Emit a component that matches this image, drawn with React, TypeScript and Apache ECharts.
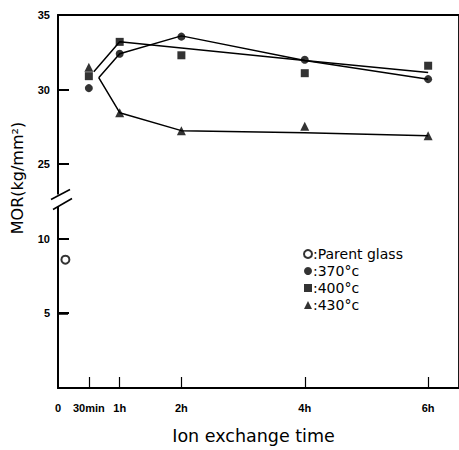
import React, { useEffect, useRef } from "react";
import * as echarts from "echarts";

// ---- data (hours, MOR kg/mm²) ----
const markerHours = [0.5, 1, 2, 4, 6];
const parentGlassHour = [0.12];
const parentGlassMor = [8.6];
const mor370 = [30.1, 32.4, 33.55, 32.0, 30.7];
const mor400 = [30.9, 33.2, 32.3, 31.1, 31.6];
const mor430 = [31.5, 28.45, 27.25, 27.55, 26.9];

// hand-drawn trend curves
const curve370Hours = [0.66, 1, 2, 4, 6];
const curve370 = [30.8, 32.4, 33.6, 31.95, 30.7];
const curve400Hours = [0.58, 1, 4, 6];
const curve400 = [31.2, 33.2, 31.95, 31.15];
const curve430Hours = [0.66, 1, 2, 4, 6];
const curve430 = [30.8, 28.45, 27.25, 27.1, 26.9];

const xTickValues = [0, 0.5, 1, 2, 4, 6];
const xTickLabels = ["0", "30min", "1h", "2h", "4h", "6h"];

// broken y axis: values 10..25 are cut out of the axis, leaving a 5-unit gap
const breakStart = 10;
const breakEnd = 25;
const breakGap = 5;
const yTickValues = [0, 5, 10, 25, 30, 35];
const yTickLabels = ["", "5", "10", "25", "30", "35"];

const legendNames = ["Parent glass", "370°c", "400°c", "430°c"];

const cut = breakEnd - breakStart - breakGap;
const toAxis = (v: number) => (v >= breakEnd - breakGap / 2 ? v - cut : v);
const zip = (xs: number[], ys: number[]) => xs.map((x, i) => [x, toAxis(ys[i])]);

export default function App() {
  const ref = useRef<HTMLDivElement>(null);
  useEffect(() => {
    if (!ref.current) return;
    const chart = echarts.init(ref.current, null, { renderer: "svg" });
    const ink = "#000";
    const font = "Liberation Sans";
    const lineSeries = (data: number[][]) => ({
      type: "line",
      data,
      showSymbol: false,
      silent: true,
      lineStyle: { color: ink, width: 1.5 },
      z: 2,
    });
    const scatter = (name: string, data: number[][], symbol: string, size: number) => ({
      type: "scatter",
      name,
      data,
      symbol,
      symbolSize: size,
      itemStyle: { color: ink },
      z: 3,
    });
    chart.setOption({
      animation: false,
      backgroundColor: "#fff",
      grid: { left: 58, right: -2, top: 15, bottom: 58, show: true, borderColor: ink, borderWidth: 1.8, backgroundColor: "transparent" },
      legend: {
        data: legendNames,
        orient: "vertical",
        left: 298,
        top: 242,
        itemWidth: 8,
        itemHeight: 8,
        itemGap: 3,
        formatter: (n: string) => ":" + n,
        textStyle: { fontFamily: "DejaVu Sans", fontSize: 14, color: ink, lineHeight: 14, padding: [0, 0, 0, -4] },
      },
      xAxis: {
        type: "value",
        min: 0,
        max: 6.5,
        splitLine: { show: false },
        axisLine: { onZero: false, lineStyle: { color: ink, width: 1.5 } },
        axisTick: {
          inside: true,
          length: 11,
          customValues: xTickValues.slice(1),
          lineStyle: { color: ink, width: 1.2 },
        },
        axisLabel: {
          customValues: xTickValues,
          formatter: (v: number) => {
            const i = xTickValues.findIndex((t) => Math.abs(t - v) < 1e-6);
            return i >= 0 ? xTickLabels[i] : "";
          },
          margin: 14,
          color: ink,
          fontFamily: font,
          fontSize: 11,
          fontWeight: "bold",
        },
        name: "Ion exchange time",
        nameLocation: "middle",
        nameGap: 39,
        nameTextStyle: { fontFamily: "DejaVu Sans", fontSize: 17.5, color: ink, padding: [0, 10, 0, 0] },
      },
      yAxis: {
        type: "value",
        position: "left",
        min: 0,
        max: toAxis(35),
        interval: 5,
        splitLine: { show: false },
        axisLine: { show: true, lineStyle: { color: ink, width: 1.5 } },
        axisTick: { show: true, inside: true, length: 10, lineStyle: { color: ink, width: 1.5 } },
        axisLabel: {
          formatter: (v: number) => {
            const i = yTickValues.findIndex((t) => Math.abs(toAxis(t) - v) < 1e-6);
            return i >= 0 ? yTickLabels[i] : "";
          },
          margin: 8,
          color: ink,
          fontFamily: font,
          fontSize: 11,
          fontWeight: "bold",
        },
      },
      series: [
        lineSeries(zip(curve370Hours, curve370)),
        lineSeries(zip(curve400Hours, curve400)),
        lineSeries(zip(curve430Hours, curve430)),
        {
          ...scatter(legendNames[0], zip(parentGlassHour, parentGlassMor), "emptyCircle", 8),
          itemStyle: { color: ink, borderColor: ink, borderWidth: 2.5 },
        },
        scatter(legendNames[1], zip(markerHours, mor370), "circle", 8),
        scatter(legendNames[2], zip(markerHours, mor400), "rect", 8),
        scatter(legendNames[3], zip(markerHours, mor430), "triangle", 9),
      ],
    });

    // y axis line, ticks and the axis-break marks, placed through the axis scales
    const x0 = chart.convertToPixel({ xAxisIndex: 0 }, 0) as number;
    const yPix = (v: number) => chart.convertToPixel({ yAxisIndex: 0 }, toAxis(v)) as number;
    const yTop = yPix(35);
    const yBottom = yPix(0);
    const yBreak = (yPix(breakStart) + yPix(breakEnd)) / 2 - 1;
    const tickRects = yTickValues.slice(1).map((t) => ({
      type: "rect",
      shape: { x: x0, y: Math.round(yPix(t)) - 1, width: 11, height: 2 },
      style: { fill: ink },
      z: 200,
    }));
    chart.setOption({
      graphic: [
        { type: "rect", shape: { x: x0 - 1, y: yTop, width: 1.8, height: yBottom - yTop }, style: { fill: ink }, z: 90 },
        ...tickRects,
        { type: "rect", shape: { x: x0 - 4, y: yBreak - 6, width: 9, height: 12 }, style: { fill: "#fff" }, z: 100 },
        { type: "line", shape: { x1: x0 - 7, y1: yBreak - 1, x2: x0 + 12, y2: yBreak - 11 }, style: { stroke: ink, lineWidth: 1.5 }, z: 101 },
        { type: "line", shape: { x1: x0 - 5, y1: yBreak + 9, x2: x0 + 14, y2: yBreak - 2 }, style: { stroke: ink, lineWidth: 1.5 }, z: 101 },
        {
          type: "text",
          x: 17,
          y: 178,
          rotation: Math.PI / 2,
          style: {
            text: "MOR(kg/mm²)",
            fontFamily: "DejaVu Sans",
            fontSize: 16,
            fill: ink,
            align: "center",
            verticalAlign: "middle",
          },
          z: 100,
        },
      ],
    });
    return () => chart.dispose();
  }, []);
  return (
    <div
      ref={ref}
      style={{ position: "absolute", left: 0, top: 0, width: 459, height: 450, background: "#fff" }}
    />
  );
}
